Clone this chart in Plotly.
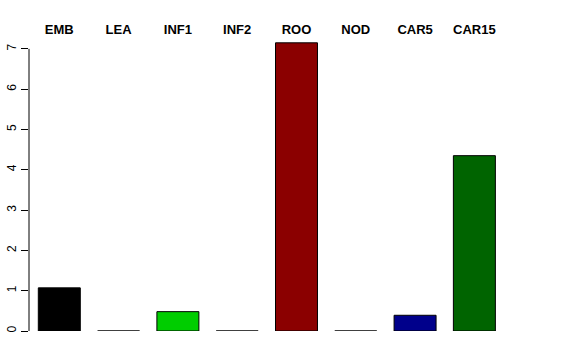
import plotly.graph_objects as go

categories = ["EMB", "LEA", "INF1", "INF2", "ROO", "NOD", "CAR5", "CAR15"]
values = [1.07, 0.0, 0.48, 0.0, 7.15, 0.0, 0.39, 4.35]
colors = ["#000000", "#FF0000", "#00CD00", "#00FF00", "#8B0000", "#0000FF", "#00008B", "#006400"]
y_ticks = [0, 1, 2, 3, 4, 5, 6, 7]

positions = list(range(len(categories)))

fig = go.Figure()
fig.add_trace(go.Bar(
    x=positions, y=values, width=0.708,
    marker=dict(color=colors, line=dict(color="#000000", width=1)),
    showlegend=False,
))

font = "Liberation Sans, Arial, Helvetica, sans-serif"
fig.update_layout(
    width=576, height=360,
    margin=dict(l=29, r=16, t=40, b=29, autoexpand=False),
    paper_bgcolor="white", plot_bgcolor="white",
    font=dict(family=font, color="#000000"),
    xaxis=dict(
        side="top", range=[-0.511, 8.444],
        tickmode="array", tickvals=positions,
        ticktext=[f"<b>{c}</b>" for c in categories],
        tickfont=dict(size=13, family=font, color="#000000"),
        ticks="", showline=False, showgrid=False, zeroline=False,
        ticklabelstandoff=2, automargin=False,
    ),
    yaxis=dict(
        range=[0, 7.22], tickmode="array", tickvals=y_ticks,
        ticktext=[str(t) for t in y_ticks],
        tickangle=-90, ticks="outside", ticklen=7, tickwidth=1,
        tickcolor="#000000", tickfont=dict(size=12, family=font, color="#000000"),
        showline=False, showgrid=False, zeroline=False, automargin=False,
    ),
)
fig.add_shape(type="line", xref="paper", yref="y", x0=0, x1=0,
              y0=y_ticks[0], y1=y_ticks[-1], line=dict(color="#000000", width=1))

fig.write_html("out.html")
